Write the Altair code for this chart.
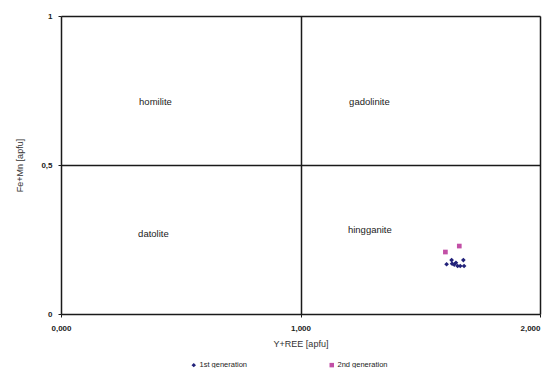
import altair as alt
import pandas as pd

# data
gen1_x = [1.610, 1.631, 1.633, 1.649, 1.656, 1.667, 1.683, 1.680, 1.642]
gen1_y = [0.167, 0.181, 0.169, 0.172, 0.161, 0.161, 0.161, 0.181, 0.166]
gen2_x = [1.605, 1.663]
gen2_y = [0.208, 0.228]

label_names = ["homilite", "gadolinite", "datolite", "hingganite"]
label_x = [0.326, 1.203, 0.322, 1.198]
label_y = [0.711, 0.711, 0.269, 0.282]

series = ["1st generation", "2nd generation"]
colors = ["#22227a", "#c24fa6"]
shapes = ["diamond", "square"]

rows = []
for x, y in zip(gen1_x, gen1_y):
    rows.append({"x": x, "y": y, "series": series[0]})
for x, y in zip(gen2_x, gen2_y):
    rows.append({"x": x, "y": y, "series": series[1]})
pts = pd.DataFrame(rows)
labels = pd.DataFrame({"name": label_names, "x": label_x, "y": label_y})

FONT = "Liberation Sans"

xscale = alt.Scale(domain=[0, 2], nice=False, zero=False)
yscale = alt.Scale(domain=[0, 1], nice=False, zero=False)

xaxis = alt.Axis(
    title="Y+REE [apfu]", values=[0, 1, 2],
    labelExpr="replace(format(datum.value, '.3f'), '.', ',')",
    labelAlign=alt.ExprRef(expr="datum.value == 2 ? 'right' : 'center'"),
    grid=True, gridColor="#1a1a1a", gridWidth=1.5,
    domain=False, tickColor="#1a1a1a", tickSize=3, labelPadding=7,
    labelFont=FONT, labelFontSize=8, labelFontWeight="bold", labelColor="#222",
    titleFont=FONT, titleFontSize=9, titleFontWeight="normal", titleColor="#333",
    titlePadding=7, labelFlush=False,
)
yaxis = alt.Axis(
    title="Fe+Mn [apfu]", values=[0, 0.5, 1],
    labelExpr="replace(toString(datum.value), '.', ',')",
    grid=True, gridColor="#1a1a1a", gridWidth=1.5,
    domain=False, tickColor="#1a1a1a", tickSize=3, labelPadding=6,
    labelFont=FONT, labelFontSize=8, labelFontWeight="bold", labelColor="#222",
    titleFont=FONT, titleFontSize=9, titleFontWeight="normal", titleColor="#333",
    titlePadding=16, labelFlush=False,
)

points = alt.Chart(pts).mark_point(filled=True, opacity=1, size=22).encode(
    x=alt.X("x:Q", scale=xscale, axis=xaxis),
    y=alt.Y("y:Q", scale=yscale, axis=yaxis),
    color=alt.Color("series:N", scale=alt.Scale(domain=series, range=colors),
                    legend=alt.Legend(
                        title=None, orient="none", direction="horizontal",
                        legendX=129, legendY=345,
                        labelFont=FONT, labelFontSize=7.5, labelColor="#222",
                        symbolSize=20, labelOffset=2, columnPadding=80,
                    )),
    shape=alt.Shape("series:N", scale=alt.Scale(domain=series, range=shapes)),
)

texts = alt.Chart(labels).mark_text(
    align="left", baseline="middle", font=FONT, fontSize=9.5, color="#222"
).encode(
    x=alt.X("x:Q", scale=xscale),
    y=alt.Y("y:Q", scale=yscale),
    text="name:N",
)

chart = (texts + points).properties(
    width=479, height=298,
    autosize=alt.AutoSizeParams(type="none"),
    padding={"left": 53, "top": 8, "right": 3, "bottom": 54},
).configure_view(stroke="#1a1a1a", strokeWidth=1.5).configure(background="white")

chart.save("out.html", embed_options={"renderer": "svg", "actions": False})
